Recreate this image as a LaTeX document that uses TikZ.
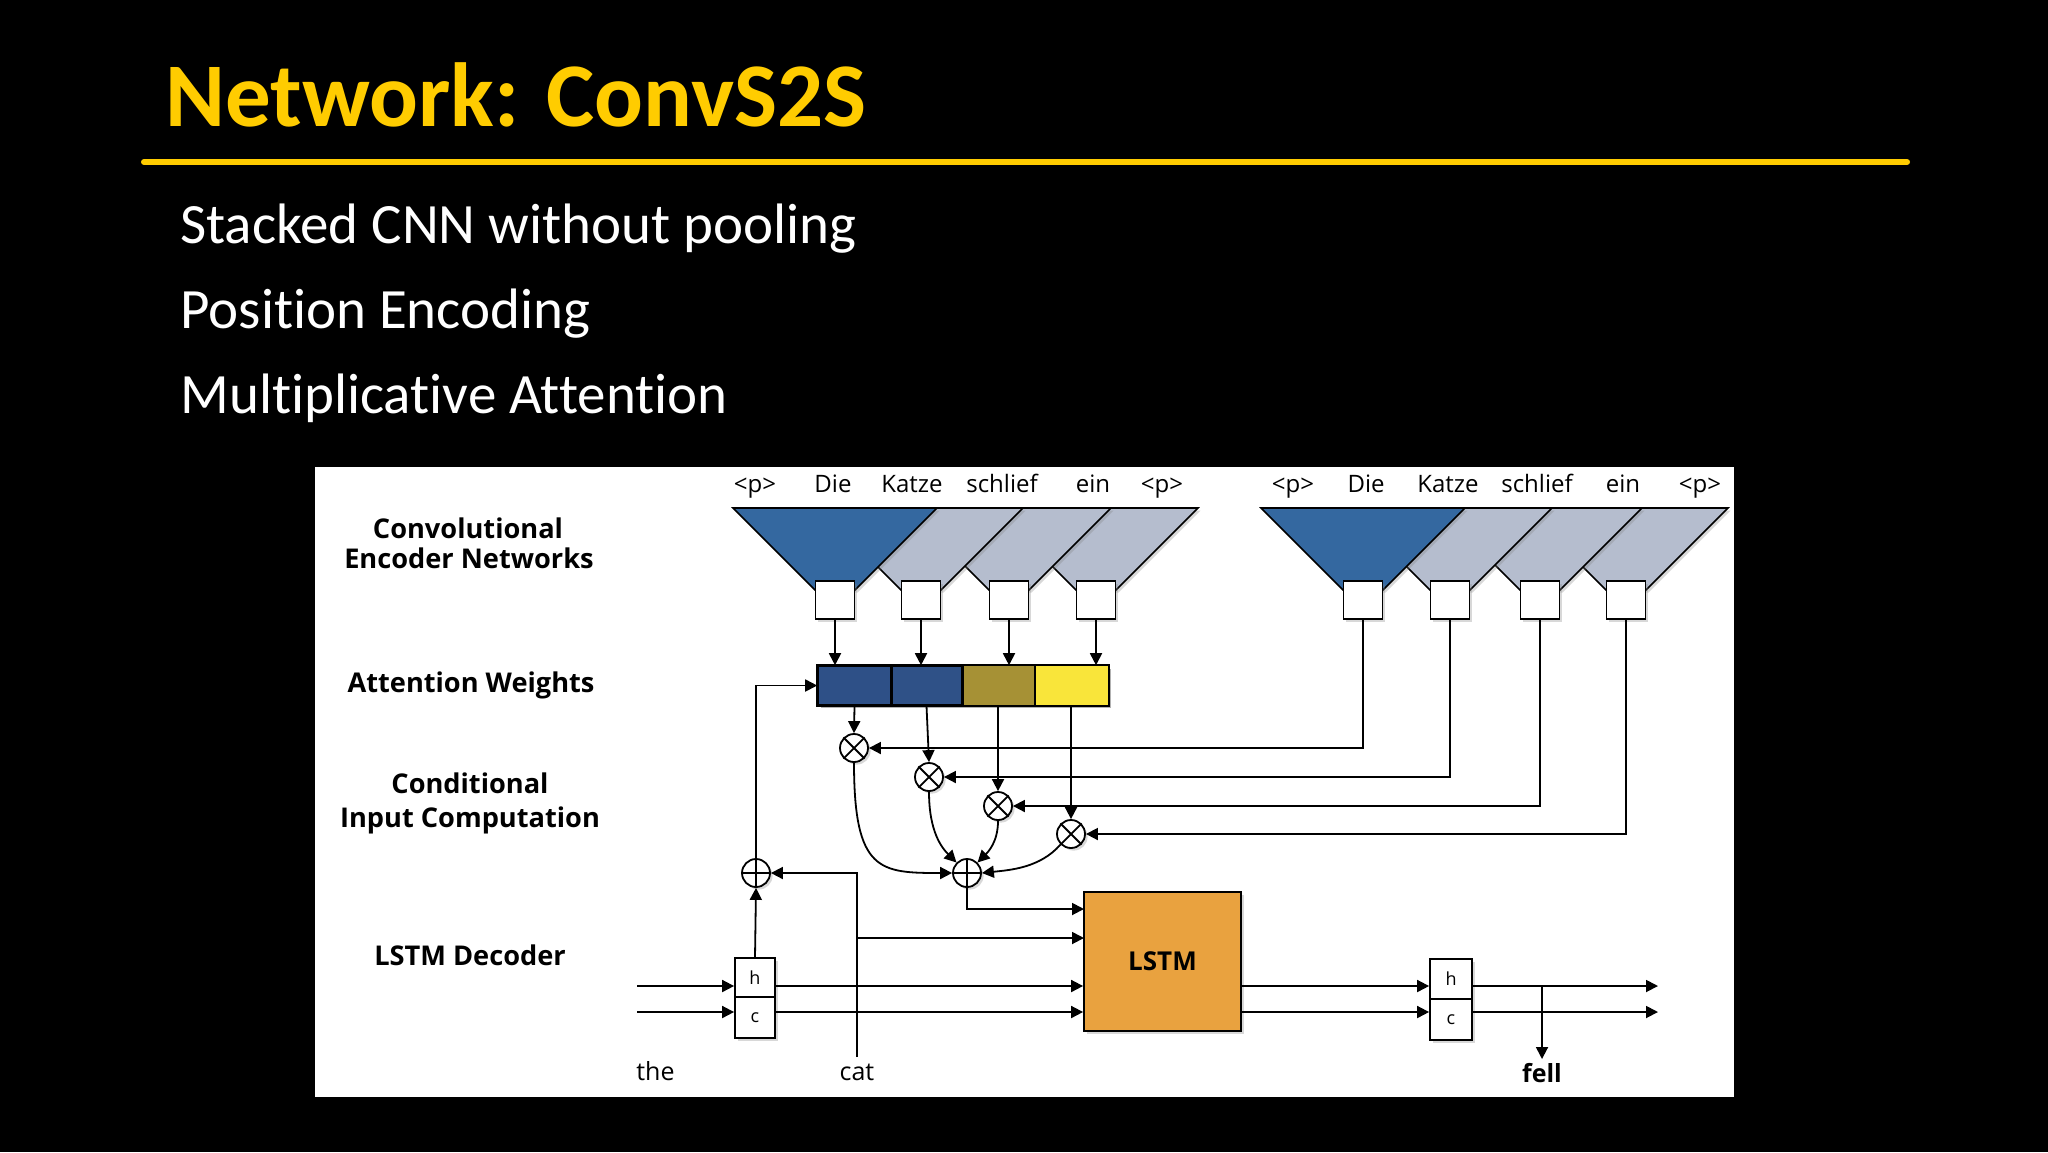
\documentclass[tikz,border=0pt]{standalone}
\usepackage{fontspec}
\setmainfont{Carlito}[Ligatures={NoCommon}]
\newfontfamily\osans{Open Sans}
\usetikzlibrary{arrows.meta,shadows,calc}
\definecolor{ttl}{HTML}{FFCC00}
\definecolor{fblue}{HTML}{3468A0}
\definecolor{fgray}{HTML}{B5BDCE}
\definecolor{wa}{HTML}{2E5087}
\definecolor{wb}{HTML}{2F5187}
\definecolor{wc}{HTML}{A69135}
\definecolor{wd}{HTML}{F9E53A}
\definecolor{lstmc}{HTML}{E9A23F}
\newcommand\funnelshape[2]{\filldraw[fill=#2, line width=0.8pt, shd] (#1-102,508) -- (#1+102,508) -- (#1+20,590) -- (#1-20,590) -- cycle;}
\begin{document}
\begin{tikzpicture}[x=0.5pt,y=-0.5pt,
  shd/.style={drop shadow={shadow xshift=1.3pt,shadow yshift=-1.3pt,opacity=0.3}},
  arr/.style={-{Triangle[length=6pt,width=6pt]}, line width=0.9pt},
  ln/.style={line width=0.9pt},
  sq/.style={draw, fill=white, line width=0.9pt, minimum width=19.5pt, minimum height=19pt, inner sep=0pt, shd},
  cell/.style={draw, line width=0.8pt, minimum height=19.5pt, inner sep=0pt},
  circ/.style={circle, draw, fill=white, minimum size=14pt, inner sep=0pt, line width=0.9pt, shd},
  word/.style={anchor=base, inner sep=0pt, font=\osans\fontsize{12pt}{13pt}\selectfont},
  side/.style={anchor=base, inner sep=0pt, font=\osans\bfseries\fontsize{13.6pt}{15pt}\selectfont},
  bul/.style={anchor=base west, inner sep=0pt, text=white, font=\fontsize{28.5pt}{31pt}\selectfont},
  hc/.style={draw, fill=white, line width=0.9pt, minimum width=20pt, inner sep=0pt, font=\osans\fontsize{9pt}{10pt}\selectfont, shd}
]
% background
\fill[black] (0,0) rectangle (2048,1152);
% title
\node[anchor=base west, inner sep=0pt, text=ttl, font=\bfseries\fontsize{45.5pt}{50pt}\selectfont] (title) at (165,126) {Network: ConvS2S};
\draw[ttl, line width=3pt, line cap=round] (144,162) -- (1907,162);
% bullets
\node[bul] (b1t) at (180,243) {Stacked CNN without pooling};
\node[bul] (b2t) at (180,328) {Position Encoding};
\node[bul] (b3t) at (180,413) {Multiplicative Attention};
% panel
\fill[white] (315,467) rectangle (1734,1097);
% side labels
\node[side] (l1) at (468,538) {Convolutional};
\node[side] (l2) at (469,568) {Encoder Networks};
\node[side] (l3) at (471,692) {Attention Weights};
\node[side] (l4) at (470,793) {Conditional};
\node[side] (l5) at (470,827) {Input Computation};
\node[side] (l6) at (470,965) {LSTM Decoder};
% word labels
\foreach \x/\w [count=\i] in {755/{<p>},833/Die,912/Katze,1002/schlief,1093/ein,1162/{<p>}}
  \node[word] (wl\i) at (\x,492) {\w};
\foreach \x/\w [count=\i] in {1293/{<p>},1366/Die,1448/Katze,1537/schlief,1623/ein,1700/{<p>}}
  \node[word] (wr\i) at (\x,492) {\w};
% funnels
\funnelshape{1096}{fgray}
\funnelshape{1009}{fgray}
\funnelshape{921}{fgray}
\funnelshape{835}{fblue}
\funnelshape{1626}{fgray}
\funnelshape{1540}{fgray}
\funnelshape{1450}{fgray}
\funnelshape{1363}{fblue}
% boxes
\node[sq] (bl1) at (835,600) {};
\node[sq] (bl2) at (921,600) {};
\node[sq] (bl3) at (1009,600) {};
\node[sq] (bl4) at (1096,600) {};
\node[sq] (br1) at (1363,600) {};
\node[sq] (br2) at (1450,600) {};
\node[sq] (br3) at (1540,600) {};
\node[sq] (br4) at (1626,600) {};
% attention bar
\fill[black, opacity=0.3] (820.6,668.6) rectangle (1110.6,707.6);
\node[cell, fill=wa, minimum width=36.5pt] (a1) at (854.5,685.5) {};
\node[cell, fill=wb, minimum width=35.5pt] (a2) at (926.5,685.5) {};
\node[cell, fill=wc, minimum width=36pt, draw=none] (a3) at (998,685.5) {};
\node[cell, fill=wd, minimum width=37pt, draw=none] (a4) at (1071,685.5) {};
\draw[line width=0.8pt] (a1.north west) rectangle (a4.south east);
\draw[line width=0.8pt] (a1.north east) -- (a1.south east) (a2.north east) -- (a2.south east) (a3.north east) -- (a3.south east);
% arrows boxes -> bar
\foreach \i in {1,2,3,4} \draw[arr] (bl\i.south) -- (bl\i.south |- a\i.north);
% multiply circles
\node[circ] (m1) at (854,748) {};
\node[circ] (m2) at (929,777) {};
\node[circ] (m3) at (998,806) {};
\node[circ] (m4) at (1071,834) {};
\foreach \i in {1,2,3,4} {
  \draw[arr] (a\i.south) -- (m\i.north);
  \draw[arr] (br\i.south) |- (m\i.east);
  \draw[ln] (m\i.north west) -- (m\i.south east) (m\i.north east) -- (m\i.south west);
}
% plus circles
\node[circ] (p0) at (756,873) {};
\node[circ] (p1) at (967,873) {};
\draw[ln] (p0.north) -- (p0.south) (p0.west) -- (p0.east);
\draw[ln] (p1.north) -- (p1.south) (p1.west) -- (p1.east);
% curves into sum
\draw[arr] (m1.south) .. controls (854,872) and (880,873) .. (p1.west);
\draw[arr] (m2.south) .. controls (929,832) and (942,848) .. (p1.north west);
\draw[arr] (m3.south) .. controls (998,842) and (988,852) .. (p1.north east);
\draw[arr] (m4.south west) .. controls (1040,868) and (1010,870) .. (p1.east);
% LSTM
\node[draw, fill=lstmc, line width=0.9pt, minimum width=78.5pt, minimum height=69.5pt, inner sep=0pt, shd, font=\osans\bfseries\fontsize{13pt}{14pt}\selectfont] (lstm) at (1162.5,961.5) {LSTM};
% left h/c
\node[hc, minimum height=19.5pt] (hL) at (755,977.5) {h};
\node[hc, minimum height=20.5pt] (cL) at (755,1017.5) {c};
% right h/c
\node[hc, minimum height=20pt, minimum width=21pt] (hR) at (1451,979) {h};
\node[hc, minimum height=20.5pt, minimum width=21pt] (cR) at (1451,1019.5) {c};
% coordinates
\coordinate (inh) at (637,986);
\coordinate (inc) at (637,1012);
\coordinate (catb) at (857,1057);
\coordinate (catm) at (857,938);
\coordinate (l1in) at (1084,909);
\coordinate (l2in) at (1084,938);
\coordinate (outh) at (1658,986);
\coordinate (outc) at (1658,1012);
\coordinate (fellj) at (1542,986);
\coordinate (fellt) at (1542,1059);
% decoder connections
\draw[arr] (inh) -- (inh -| hL.west);
\draw[arr] (inc) -- (inc -| cL.west);
\draw[arr] (hL.north) -- (p0.south);
\draw[arr] (p0.north) |- (a1.west);
\draw[arr] (catb) |- (p0.east);
\draw[arr] (catm) -- (l2in);
\draw[arr] (p1.south) |- (l1in);
\draw[arr] (inh -| hL.east) -- (inh -| lstm.west);
\draw[arr] (inc -| cL.east) -- (inc -| lstm.west);
\draw[arr] (inh -| lstm.east) -- (inh -| hR.west);
\draw[arr] (inc -| lstm.east) -- (inc -| cR.west);
\draw[arr] (inh -| hR.east) -- (outh);
\draw[arr] (inc -| cR.east) -- (outc);
\draw[arr] (fellj) -- (fellt);
% bottom labels
\node[anchor=base west, inner sep=0pt, font=\osans\fontsize{12.5pt}{13pt}\selectfont] (the) at (636,1080) {the};
\node[anchor=base, inner sep=0pt, font=\osans\fontsize{12.5pt}{13pt}\selectfont] (cat) at (857,1080) {cat};
\node[anchor=base, inner sep=0pt, font=\osans\bfseries\fontsize{12.5pt}{14pt}\selectfont] (fell) at (1542,1082) {fell};
\end{tikzpicture}
\end{document}
